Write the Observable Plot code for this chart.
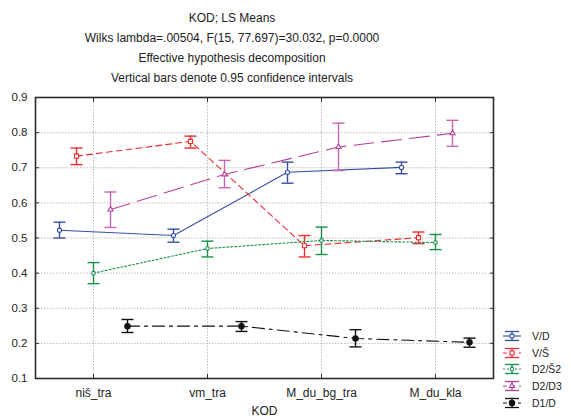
<!DOCTYPE html>
<html>
<head>
<meta charset="utf-8">
<script src="https://cdn.jsdelivr.net/npm/d3@7"></script>
<script src="https://cdn.jsdelivr.net/npm/@observablehq/plot@0.6"></script>
<style>
  body { margin: 0; background: #fff; font-family: "Liberation Sans", Arial, sans-serif; color: #222; }
  #wrap { position: relative; width: 571px; height: 418px; overflow: hidden; }
  #titles { width: 464px; height: 90px; box-sizing: border-box; padding-top: 8px; text-align: center; font-size: 12px; line-height: 20px; }
  #legend { position: absolute; left: 503px; top: 328px; font-size: 10.5px; }
  #legend .row { display: flex; align-items: center; height: 16.6px; }
  #legend svg { margin-right: 10px; }
</style>
</head>
<body>
<div id="wrap">
  <div id="titles">
    <div>KOD; LS Means</div>
    <div>Wilks lambda=.00504, F(15, 77.697)=30.032, p=0.0000</div>
    <div>Effective hypothesis decomposition</div>
    <div>Vertical bars denote 0.95 confidence intervals</div>
  </div>
  <div id="chart"></div>
  <div id="legend"></div>
</div>
<script>
const categories = ["niš_tra", "vm_tra", "M_du_bg_tra", "M_du_kla"];
const yTicks = [0.1, 0.2, 0.3, 0.4, 0.5, 0.6, 0.7, 0.8, 0.9];
const seriesNames = ["V/D", "V/Š", "D2/Š2", "D2/D3", "D1/D"];

const vdMean = [0.522, 0.507, 0.687, 0.701];
const vdLo   = [0.500, 0.488, 0.656, 0.683];
const vdHi   = [0.545, 0.525, 0.716, 0.716];

const vsMean = [0.733, 0.775, 0.478, 0.501];
const vsLo   = [0.709, 0.756, 0.446, 0.484];
const vsHi   = [0.756, 0.790, 0.507, 0.517];

const d2s2Mean = [0.400, 0.470, 0.493, 0.487];
const d2s2Lo   = [0.370, 0.446, 0.453, 0.467];
const d2s2Hi   = [0.430, 0.491, 0.531, 0.510];

const d2d3Mean = [0.581, 0.681, 0.759, 0.798];
const d2d3Lo   = [0.530, 0.643, 0.692, 0.761];
const d2d3Hi   = [0.631, 0.721, 0.827, 0.835];

const d1dMean = [0.249, 0.249, 0.214, 0.203];
const d1dLo   = [0.231, 0.234, 0.190, 0.189];
const d1dHi   = [0.268, 0.262, 0.239, 0.215];

const means = [vdMean, vsMean, d2s2Mean, d2d3Mean, d1dMean];
const los = [vdLo, vsLo, d2s2Lo, d2d3Lo, d1dLo];
const his = [vdHi, vsHi, d2s2Hi, d2d3Hi, d1dHi];

// styles
const colors = ["#3550a3", "#ee2b2f", "#16904a", "#b5409c", "#111111"];
const barColors = ["#3550a3", "#ee2b2f", "#16904a", "#c766b0", "#111111"];
const dashes = [null, "6,4", "2,2", "20,8", "12,5,3,5"];
const offsets = [-34, -17, 0, 17, 34];
const symbols = ["circle", "square", "circle", d3.symbolTriangle, "circle"];
const radii = [2.1, 2.3, 1.8, 1.9, 2.7];
const fills = ["white", "white", "white", "white", "#111111"];

const cap = { draw(ctx) { ctx.moveTo(-6, 0); ctx.lineTo(6, 0); } };

const marks = [
  Plot.gridY(yTicks, { stroke: "#bbb", strokeOpacity: 1, strokeDasharray: "1.5,1.5" }),
  Plot.gridX(categories, { stroke: "#bbb", strokeOpacity: 1, strokeDasharray: "1.5,1.5" }),
  Plot.axisY(yTicks, { tickSize: 0, tickPadding: 8, tickFormat: d3.format(".1f"), label: null, fontSize: "11.5px" }),
  Plot.axisY(yTicks, { tickSize: -4, fill: "none", label: null, stroke: "#333" }),
  Plot.axisY(yTicks, { anchor: "right", tickSize: -4, fill: "none", label: null, stroke: "#333" }),
  Plot.axisX(categories, { tickSize: 0, tickPadding: 10, label: "KOD", labelAnchor: "center", labelOffset: 36, fontSize: "12px" }),
  Plot.axisX(categories, { anchor: "top", tickSize: -4, fill: "none", label: null, stroke: "#333" }),
  Plot.axisX(categories, { tickSize: -4, fill: "none", label: null, stroke: "#333" }),
  Plot.frame({ stroke: "#2a2a2a", strokeWidth: 1.6 })
];

seriesNames.forEach((name, s) => {
  const rows = categories.map((c, i) => ({ cat: c, mean: means[s][i], lo: los[s][i], hi: his[s][i] }));
  const dx = offsets[s];
  const col = colors[s];
  const bcol = barColors[s];
  marks.push(
    Plot.line(rows, { x: "cat", y: "mean", dx, stroke: col, strokeWidth: 1.1, strokeDasharray: dashes[s] }),
    Plot.ruleX(rows, { x: "cat", y1: "lo", y2: "hi", dx, stroke: bcol, strokeWidth: 1.4 }),
    Plot.dot(rows, { x: "cat", y: "hi", dx, symbol: cap, r: 5, stroke: bcol, fill: "none", strokeWidth: 1.4 }),
    Plot.dot(rows, { x: "cat", y: "lo", dx, symbol: cap, r: 5, stroke: bcol, fill: "none", strokeWidth: 1.4 }),
    Plot.dot(rows, { x: "cat", y: "mean", dx, symbol: symbols[s], r: radii[s], stroke: col, fill: fills[s], strokeWidth: 1.1 })
  );
});

const chart = Plot.plot({
  width: 571,
  height: 328,
  marginTop: 7,
  marginBottom: 40,
  marginLeft: 35,
  marginRight: 78,
  style: { fontFamily: "Liberation Sans, Arial, sans-serif", fontSize: "12px", color: "#222", background: "transparent", overflow: "visible" },
  x: { type: "point", domain: categories, padding: 0.5 },
  y: { domain: [0.1, 0.9] },
  marks
});
document.getElementById("chart").appendChild(chart);

// legend
const legend = document.getElementById("legend");
seriesNames.forEach((name, s) => {
  const row = document.createElement("div");
  row.className = "row";
  const svg = d3.create("svg").attr("width", 19).attr("height", 12);
  const col = colors[s];
  svg.append("line").attr("x1", 2).attr("x2", 16).attr("y1", 1.5).attr("y2", 1.5).attr("stroke", col).attr("stroke-width", 1.3);
  svg.append("line").attr("x1", 2).attr("x2", 16).attr("y1", 10.5).attr("y2", 10.5).attr("stroke", col).attr("stroke-width", 1.3);
  svg.append("line").attr("x1", 9).attr("x2", 9).attr("y1", 1.5).attr("y2", 10.5).attr("stroke", col).attr("stroke-width", 1.3);
  svg.append("line").attr("x1", 0).attr("x2", 18).attr("y1", 6).attr("y2", 6).attr("stroke", col).attr("stroke-width", 1.1).attr("stroke-dasharray", dashes[s] ? dashes[s].split(",").map(v => Math.min(+v, 4)).join(",") : null);
  const sym = typeof symbols[s] === "string" ? ({ circle: d3.symbolCircle, square: d3.symbolSquare })[symbols[s]] : symbols[s];
  svg.append("path").attr("transform", "translate(9,6)").attr("d", d3.symbol(sym, radii[s] * radii[s] * Math.PI)()).attr("stroke", col).attr("fill", fills[s]).attr("stroke-width", 1.1);
  row.appendChild(svg.node());
  const lab = document.createElement("span");
  lab.textContent = name;
  row.appendChild(lab);
  legend.appendChild(row);
});
</script>
</body>
</html>
